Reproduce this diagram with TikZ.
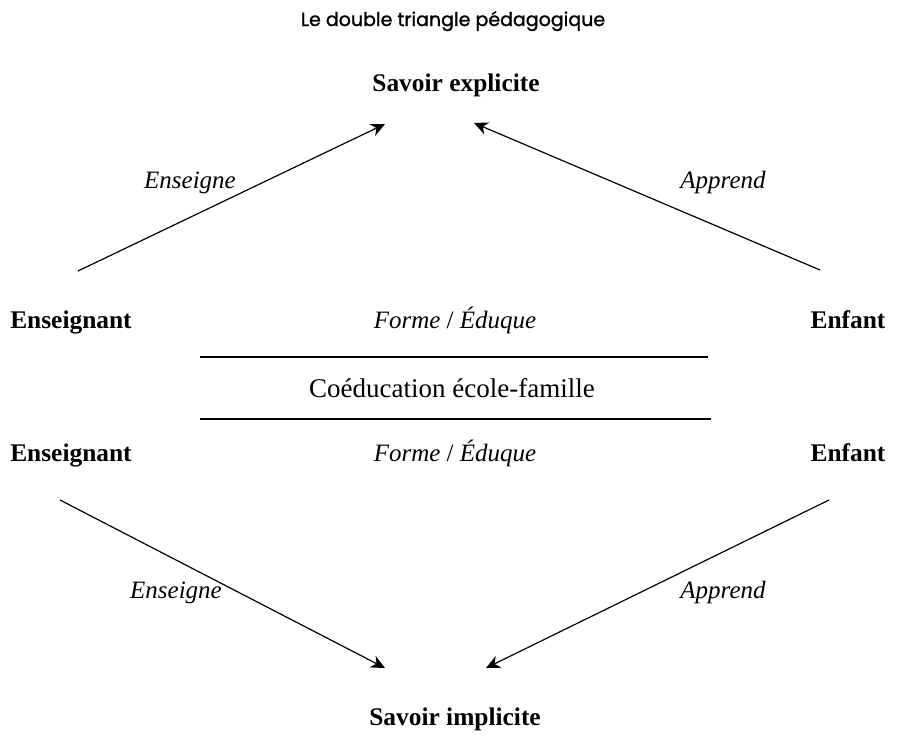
\documentclass[tikz,border=0pt]{standalone}
\usepackage{fontspec}
\setmainfont{Liberation Serif}
\newfontfamily\titlefont[FakeBold=1.2]{Poppins}
\usetikzlibrary{arrows.meta}

\begin{document}
\begin{tikzpicture}[x=0.5pt,y=-0.5pt,
		pole/.style={anchor=base,font=\fontsize{12.7}{15}\selectfont\bfseries},
		verbe/.style={anchor=base,font=\fontsize{12.5}{15}\selectfont\itshape},
		fleche/.style={-{Stealth[length=7pt,width=6.5pt]},line width=0.6pt},
		trait/.style={line width=0.6pt}]
				\useasboundingbox (0,0) rectangle (897,744);
				\node[anchor=base,font=\titlefont\fontsize{9.5}{11}\selectfont] (titre) at (453,26) {Le double triangle pédagogique};
				% nodes
				\node[pole] (explicite) at (456,91) {Savoir explicite};
				\node[pole] (ens1) at (71,328) {Enseignant};
				\node[verbe] (forme1) at (455,328) {Forme \upshape/ \itshape Éduque};
				\node[pole] (enf1) at (848,328) {Enfant};
				\node[anchor=base,font=\fontsize{13.5}{16}\selectfont] (coed) at (452,397) {Coéducation école-famille};
				\node[pole] (ens2) at (71,461) {Enseignant};
				\node[verbe] (forme2) at (455,461) {Forme \upshape/ \itshape Éduque};
				\node[pole] (enf2) at (848,461) {Enfant};
				\node[pole] (implicite) at (455,725) {Savoir implicite};
				\node[verbe] (enseigne1) at (190,188) {Enseigne};
				\node[verbe] (apprend1) at (723,188) {Apprend};
				\node[verbe] (enseigne2) at (176,598) {Enseigne};
				\node[verbe] (apprend2) at (723,598) {Apprend};
				% ends of the connectors
				\coordinate (l1a) at (200,357); \coordinate (l1b) at (708,357);
				\coordinate (l2a) at (200,419); \coordinate (l2b) at (711,419);
				\coordinate (e1) at (78,271);  \coordinate (s1) at (385,124);
				\coordinate (f1) at (820,270); \coordinate (s2) at (474,123);
				\coordinate (e2) at (60,500);  \coordinate (s3) at (385,668);
				\coordinate (f2) at (829,500); \coordinate (s4) at (486,668);
				% connectors
				\draw[trait] (l1a) -- (l1b);
				\draw[trait] (l2a) -- (l2b);
				\draw[fleche] (e1) -- (s1);
				\draw[fleche] (f1) -- (s2);
				\draw[fleche] (e2) -- (s3);
				\draw[fleche] (f2) -- (s4);
			\end{tikzpicture}
\end{document}
